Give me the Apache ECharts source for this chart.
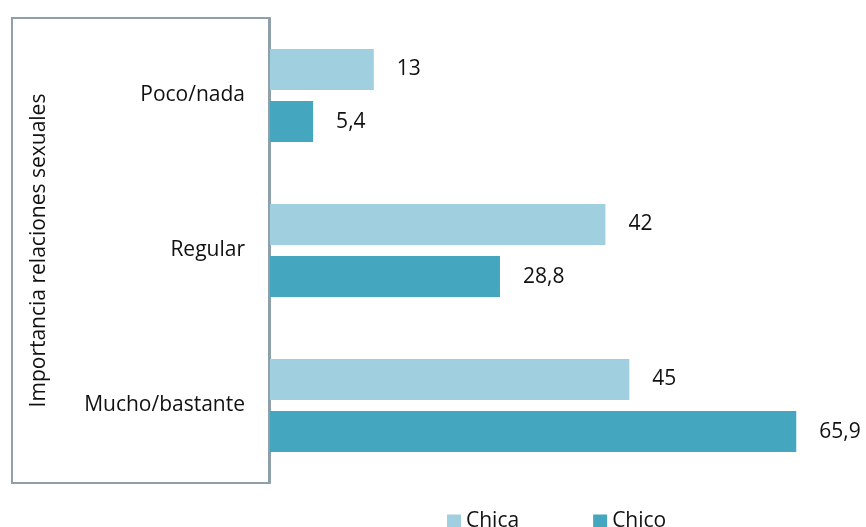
<!DOCTYPE html>
<html lang="es">
<head>
<meta charset="UTF-8">
<title>Importancia relaciones sexuales</title>
<script src="https://cdn.jsdelivr.net/npm/echarts@6/dist/echarts.min.js"></script>
<style>
  html, body { margin: 0; padding: 0; background: #fff; }
  #chart { width: 866px; height: 527px; }
</style>
</head>
<body>
<div id="chart"></div>
<script>
// datos
const categorias = ['Poco/nada', 'Regular', 'Mucho/bastante'];
const chica = [13, 42, 45];
const chico = [5.4, 28.8, 65.9];
const series = ['Chica', 'Chico'];

const chart = echarts.init(document.getElementById('chart'));
const fuente = '"Open Sans", "Noto Sans", sans-serif';
const coma = p => String(p.value).replace('.', ',');

chart.setOption({
  backgroundColor: '#ffffff',
  animation: false,
  grid: { left: 270, top: 18, width: 559, height: 465 },
  xAxis: {
    type: 'value', min: 0, max: 70,
    show: false
  },
  yAxis: {
    type: 'category',
    data: categorias,
    inverse: true,
    axisLine: { show: true, lineStyle: { color: '#8fa0aa', width: 2 } },
    axisTick: { show: false },
    axisLabel: { margin: 25, fontSize: 21, color: '#111', fontFamily: fuente },
    name: 'Importancia relaciones sexuales',
    nameLocation: 'middle',
    nameGap: 220,
    nameRotate: 90,
    nameTextStyle: { fontSize: 21, color: '#111', fontFamily: fuente }
  },
  legend: {
    data: series,
    left: 442, top: 506,
    icon: 'rect', itemWidth: 14, itemHeight: 14, itemGap: 74,
    textStyle: { fontSize: 21, color: '#111', fontFamily: fuente }
  },
  graphic: [{
    type: 'rect',
    shape: { x: 12, y: 18, width: 257, height: 465 },
    style: { fill: 'none', stroke: '#8fa0aa', lineWidth: 2 },
    z: -1
  }],
  series: [
    {
      name: 'Chica', type: 'bar', data: chica,
      barWidth: 41, barGap: '27%',
      itemStyle: { color: '#a0cfe0' },
      label: { show: true, position: 'right', distance: 23, formatter: coma,
               fontSize: 21, color: '#111', fontFamily: fuente }
    },
    {
      name: 'Chico', type: 'bar', data: chico,
      barWidth: 41, barGap: '27%',
      itemStyle: { color: '#44a7bf' },
      label: { show: true, position: 'right', distance: 23, formatter: coma,
               fontSize: 21, color: '#111', fontFamily: fuente }
    }
  ]
});

window.addEventListener('resize', () => chart.resize());
</script>
</body>
</html>
